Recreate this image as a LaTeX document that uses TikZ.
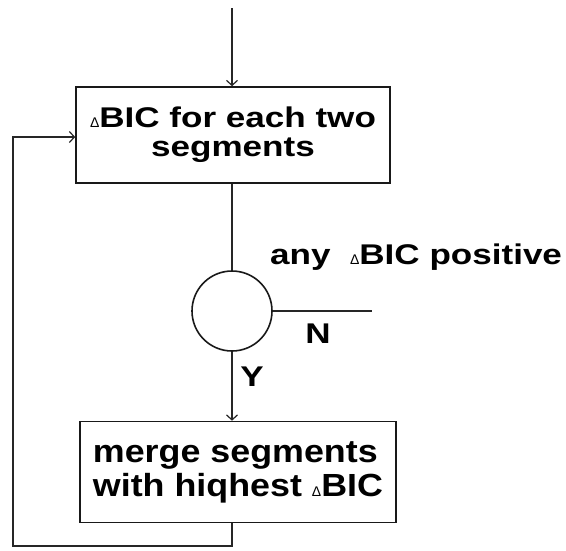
\documentclass[tikz,border=0pt]{standalone}
\usepackage{fontspec}
\setmainfont{Liberation Sans}
\newfontfamily\fontA{Liberation Sans}[UprightFont=* Bold,FakeStretch=1.23]
\newfontfamily\fontB{Liberation Sans}[UprightFont=* Bold,FakeStretch=1.12]
\newfontfamily\trifont{Liberation Sans}
\newcommand{\dtri}{{\trifont\fontsize{14}{14}\selectfont Δ}}
\usetikzlibrary{arrows.meta}
\tikzset{
  x=1pt, y=1pt,
  flow/.style={line width=1.6pt, draw=black!85},
  arr/.style={flow, -{Straight Barb[length=5pt,width=11pt,line width=1.2pt]}},
  boxA/.style={draw=black!90, line width=1.6pt, minimum width=314pt, minimum height=96pt,
    align=center, inner sep=0pt, font=\fontA\fontsize{28.5}{29}\selectfont},
  boxB/.style={draw=black!90, line width=1.6pt, minimum width=316pt, minimum height=101pt,
    align=left, inner sep=0pt, font=\fontB\fontsize{32}{34}\selectfont},
  dec/.style={draw=black!90, line width=1.6pt, circle, minimum size=80pt, inner sep=0pt},
  lbl/.style={inner sep=0pt, font=\fontA\fontsize{28.5}{29}\selectfont}
}
\begin{document}
\begin{tikzpicture}
\useasboundingbox (0,0) rectangle (566,-550);
\coordinate (start) at (232,-8);
\node[boxA] (b1) at (233,-135) {\dtri BIC for each two\\segments};
\node[dec] (c) at (232,-311) {};
\coordinate (nend) at (372,-311);
\node[boxB] (b2) at (238,-472) {merge segments\\with hiqhest \dtri BIC};
\coordinate (lb) at (232,-546);
\coordinate (ll) at (13,-546);
\coordinate (lt) at (13,-137);
\node[lbl, anchor=base west] (q) at (270,-264) {any\ \ \dtri BIC positive};
\node[lbl] (nl) at (318,-334) {N};
\node[lbl] (yl) at (252,-377) {Y};
\draw[arr] (start) -- (start |- b1.north);
\draw[flow] (b1.south -| start) -- (c.north);
\draw[flow] (c.east) -- (nend);
\draw[arr] (c.south) -- (c.south |- b2.north);
\draw[arr] (b2.south -| start) -- (lb) -- (ll) -- (lt) -- (lt -| b1.west);
\end{tikzpicture}
\end{document}
